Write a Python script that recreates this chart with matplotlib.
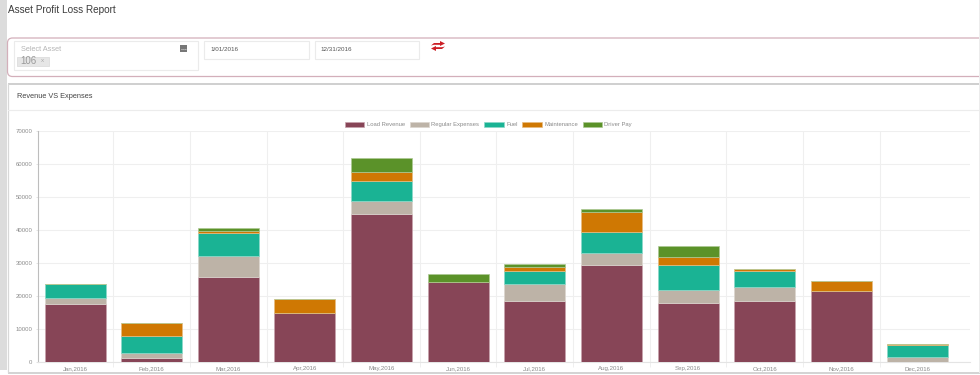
import matplotlib
matplotlib.use("Agg")
import matplotlib.pyplot as plt
from matplotlib.patches import Rectangle, FancyBboxPatch, Polygon

plt.rcParams['font.family'] = ['Liberation Sans', 'DejaVu Sans']

months = ["Jan,2016", "Feb,2016", "Mar,2016", "Apr,2016", "May,2016", "Jun,2016",
          "Jul,2016", "Aug,2016", "Sep,2016", "Oct,2016", "Nov,2016", "Dec,2016"]
load_revenue = [17500, 1000, 25600, 14660, 44900, 24170, 18500, 29320, 17700, 18400, 21330, 0]
regular_expenses = [1700, 1630, 6450, 0, 3940, 0, 5160, 3640, 4140, 4250, 0, 1415]
fuel = [4460, 5170, 6980, 0, 6060, 0, 3840, 6270, 7580, 4750, 0, 3635]
maintenance = [0, 3830, 610, 4240, 2630, 0, 1100, 6170, 2330, 800, 3140, 210]
driver_pay = [0, 0, 910, 0, 4250, 2530, 1130, 1000, 3340, 0, 0, 0]

series = [("Load Revenue", load_revenue, "#874557", "#c9a3ad"),
          ("Regular Expenses", regular_expenses, "#bdb3a7", "#dcd6cf"),
          ("Fuel", fuel, "#1ab394", "#8cd9c9"),
          ("Maintenance", maintenance, "#cf7803", "#e8bc81"),
          ("Driver Pay", driver_pay, "#5b9229", "#adc994")]
y_ticks = [0, 10000, 20000, 30000, 40000, 50000, 60000, 70000]

W, H = 980, 375
fig = plt.figure(figsize=(W / 100, H / 100), dpi=100, facecolor="white")

# page chrome, in pixels
bg = fig.add_axes([0, 0, 1, 1], zorder=0)
bg.set_xlim(0, W)
bg.set_ylim(H, 0)
bg.axis("off")
bg.add_patch(Rectangle((0, 0), 7, 370, fc="#dcdcdc", ec="none"))
bg.add_patch(Rectangle((8, 372), 972, 1.5, fc="#d4d4d4", ec="none"))
bg.add_patch(Rectangle((978.5, 0), 1.5, 373, fc="#ececec", ec="none", zorder=5))
bg.add_patch(FancyBboxPatch((7.5, 38), 985, 38.5, boxstyle="round,pad=0,rounding_size=5",
                            fc="white", ec="#d3afba", lw=0.9, mutation_aspect=1))
bg.add_patch(Rectangle((8, 82.5), 972, 2, fc="#d0d0d0", ec="none"))
bg.plot([8, 8], [84, 372], color="#d8d8d8", lw=0.9)
bg.plot([8, 980], [109.5, 109.5], color="#ececec", lw=0.8)
bg.add_patch(Rectangle((13.5, 40.5), 184, 29, fc="white", ec="#ebebeb", lw=0.8))
bg.add_patch(Rectangle((203.5, 40.5), 105, 18, fc="white", ec="#ebebeb", lw=0.8))
bg.add_patch(Rectangle((314.5, 40.5), 104, 18, fc="white", ec="#ebebeb", lw=0.8))
bg.add_patch(Rectangle((16.5, 56.5), 32.5, 9, fc="#e6e6e6", ec="#dddddd", lw=0.6))
bg.add_patch(Rectangle((179.5, 45), 7.5, 7, fc="#777777", ec="none"))
bg.plot([181, 185.5], [49, 49], color="#dddddd", lw=0.7, ls=(0, (1, 1)))
bg.add_patch(Polygon([(431, 45.5), (434, 43), (440, 43), (440, 41), (445, 43.5), (440, 46), (440, 44.8), (434, 44.8)],
                     fc="#cc2027", ec="none"))
bg.add_patch(Polygon([(445, 46.5), (442, 49), (436, 49), (436, 51), (431, 48.5), (436, 46), (436, 47.2), (442, 47.2)],
                     fc="#cc2027", ec="none"))

bg.text(8, 10, "Asset Profit Loss Report", fontsize=7.2, color="#3c3c3c", va="center")
bg.text(20.5, 49.5, "Select Asset", fontsize=5.3, color="#b5b5b5", va="center")
bg.text(20.5, 60.5, "106", fontsize=7, color="#999999", va="center")
bg.text(41, 61, "x", fontsize=4.5, color="#aaaaaa", va="center")
bg.text(210, 49.5, "1/01/2016", fontsize=4.5, color="#555555", va="center")
bg.text(320.7, 49.5, "12/31/2016", fontsize=4.5, color="#555555", va="center")
bg.text(17, 97, "Revenue VS Expenses", fontsize=5.3, color="#444444", va="center")

# chart
ax = fig.add_axes([37.5 / W, 1 - 361.7 / H, (970 - 37.5) / W, (361.7 - 131) / H], zorder=1)
ax.patch.set_alpha(0)
bottom = [0] * len(months)
x = list(range(len(months)))
for name, vals, col, edge in series:
    ax.bar(x, vals, width=0.796, bottom=bottom, color=col, edgecolor=edge, linewidth=0.5, label=name, zorder=3)
    bottom = [b + v for b, v in zip(bottom, vals)]

ax.set_xlim(-0.49, 11.68)
ax.set_ylim(0, 70000)
ax.set_yticks(y_ticks)
ax.set_xticks(x)
ax.set_xticklabels(months)
ax.set_xticks([i + 0.5 for i in x[:-1]], minor=True)
ax.grid(axis="y", color="#efefef", lw=0.8, zorder=0)
ax.grid(axis="x", which="minor", color="#efefef", lw=0.8, zorder=0)
ax.tick_params(axis="y", length=1.8, width=0.7, color="#e4e4e4", labelsize=4.3, labelcolor="#8a8a8a", pad=2)
ax.tick_params(axis="x", which="major", length=0, labelsize=4.4, labelcolor="#8a8a8a", pad=3)
ax.tick_params(axis="x", which="minor", length=3.5, width=0.7, color="#efefef")
for s in ["top", "right"]:
    ax.spines[s].set_visible(False)
ax.spines["left"].set_color("#bdbdbd")
ax.spines["left"].set_linewidth(0.8)
ax.spines["bottom"].set_color("#e4e4e4")
ax.spines["bottom"].set_linewidth(0.8)

leg = ax.legend(loc="center", bbox_to_anchor=((488.5 - 37.5) / (970 - 37.5), (361.7 - 124.3) / (361.7 - 131)),
                ncols=5, frameon=False, fontsize=4.2, handlelength=3.3, handleheight=0.95,
                handletextpad=0.42, columnspacing=0.85, borderpad=0, labelcolor="#8a8a8a")

fig.savefig("out.png", dpi=100)
